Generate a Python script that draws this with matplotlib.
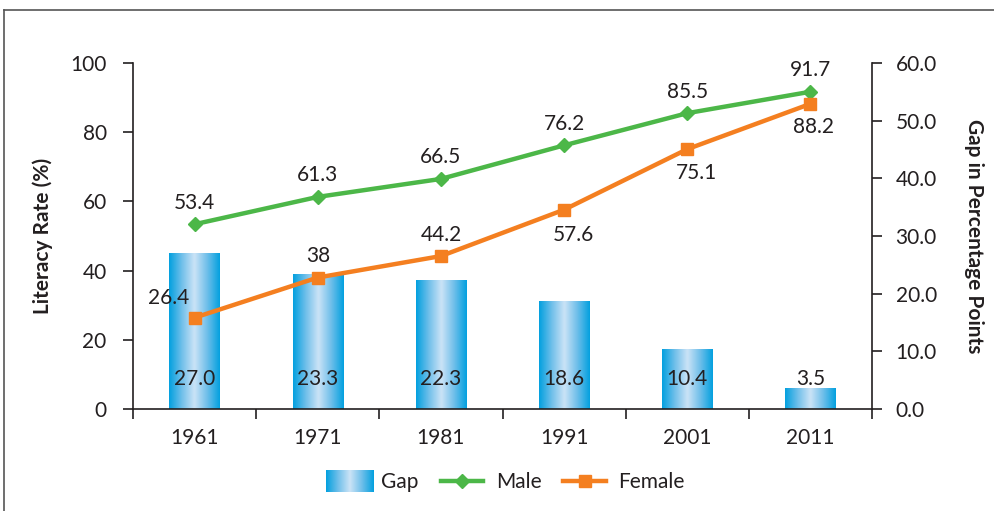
import numpy as np
import matplotlib
matplotlib.use("Agg")
import matplotlib.pyplot as plt
from matplotlib.lines import Line2D
from matplotlib.patches import Patch
from matplotlib.legend_handler import HandlerBase
from matplotlib.image import BboxImage
from matplotlib.transforms import Bbox, TransformedBbox
from matplotlib.colors import LinearSegmentedColormap

years = ["1961", "1971", "1981", "1991", "2001", "2011"]
male = [53.4, 61.3, 66.5, 76.2, 85.5, 91.7]
female = [26.4, 38, 44.2, 57.6, 75.1, 88.2]
gap = [27.0, 23.3, 22.3, 18.6, 10.4, 3.5]
male_labels = ["53.4", "61.3", "66.5", "76.2", "85.5", "91.7"]
female_labels = ["26.4", "38", "44.2", "57.6", "75.1", "88.2"]
gap_labels = ["27.0", "23.3", "22.3", "18.6", "10.4", "3.5"]
left_ticks = [0, 20, 40, 60, 80, 100]
right_ticks = [0, 10, 20, 30, 40, 50, 60]

plt.rcParams['font.family'] = ['Lato', 'DejaVu Sans']
FS = 15
GREEN = '#4cb748'
ORANGE = '#f47f20'
DARK = '#231f20'

cmap = LinearSegmentedColormap.from_list('g', ['#02a0df', '#6fbfea', '#cbe3f6', '#6fbfea', '#02a0df'])
grad = np.tile(np.linspace(0, 1, 256), (2, 1))

fig = plt.figure(figsize=(9.95, 5.11), dpi=100)
ax = fig.add_axes([0.1337, 0.1996, 0.8764 - 0.1337, 0.8767 - 0.1996])
ax2 = ax.twinx()

x = np.arange(len(years))

# bars on right axis (gradient fill)
bars = ax2.bar(x, gap, width=0.41, facecolor='none', edgecolor='none', zorder=1)
for b in bars:
    x0, y0 = b.get_x(), b.get_y()
    w, h = b.get_width(), b.get_height()
    ax2.imshow(grad, cmap=cmap, extent=[x0, x0 + w, y0, y0 + h],
               aspect='auto', interpolation='bicubic', zorder=1)
for xi, lab in zip(x, gap_labels):
    ax2.text(xi, 5.2, lab, ha='center', va='center', fontsize=FS, color=DARK, zorder=5)

ax2.set_ylim(0, 60)
ax2.set_xlim(-0.5, len(years) - 0.5)

ax.set_zorder(ax2.get_zorder() + 1)
ax.patch.set_visible(False)
ax.plot(x, male, color=GREEN, lw=3.2, marker='D', ms=7, zorder=3)
ax.plot(x, female, color=ORANGE, lw=3.2, marker='s', ms=8, zorder=3)

for xi, v, lab in zip(x, male, male_labels):
    ax.annotate(lab, (xi, v), xytext=(0, 15.5), textcoords='offset points',
                ha='center', va='center', fontsize=FS, color=DARK)
f_offsets = [(-19, 14.5), (0, 15.5), (0, 15.5), (6.5, -18), (7, -17.5), (2.5, -16.5)]
for xi, v, lab, off in zip(x, female, female_labels, f_offsets):
    ax.annotate(lab, (xi, v), xytext=off, textcoords='offset points',
                ha='center', va='center', fontsize=FS, color=DARK)

ax.set_ylim(0, 100)
ax.set_xlim(-0.5, len(years) - 0.5)
ax.set_yticks(left_ticks)
ax2.set_yticks(right_ticks)
ax2.set_yticklabels([f"{t:.1f}" for t in right_ticks])

ax.set_xticks(x)
ax.set_xticklabels(years)
ax.set_xticks(np.arange(len(years) + 1) - 0.5, minor=True)
ax.tick_params(axis='x', which='major', length=0, pad=14, labelsize=FS, labelcolor=DARK)
ax.tick_params(axis='x', which='minor', length=7, width=1.2, direction='out', color=DARK)
ax.tick_params(axis='y', length=7, width=1.2, direction='out', pad=12, labelsize=FS,
               color=DARK, labelcolor=DARK)
ax2.tick_params(axis='y', length=7, width=1.2, direction='out', pad=10, labelsize=FS,
                color=DARK, labelcolor=DARK)

for a in (ax, ax2):
    a.spines['top'].set_visible(False)
    for s in ('left', 'right', 'bottom'):
        a.spines[s].set_color(DARK)
        a.spines[s].set_linewidth(1.2)
ax.spines['right'].set_visible(False)
ax2.spines['left'].set_visible(False)
ax2.spines['bottom'].set_visible(False)

ax.set_ylabel("Literacy Rate (%)", fontsize=FS, fontweight='bold', color=DARK)
ax2.set_ylabel("Gap in Percentage Points", fontsize=FS, fontweight='bold', color=DARK,
               rotation=270)
ax.yaxis.set_label_coords(-0.108, 0.5)
ax2.yaxis.set_label_coords(1.151, 0.5)


class GradHandler(HandlerBase):
    def create_artists(self, legend, orig_handle, xdescent, ydescent, width, height,
                       fontsize, trans):
        bb = Bbox.from_bounds(-xdescent, -ydescent - 0.25 * height, width * 1.12, height * 1.5)
        img = BboxImage(TransformedBbox(bb, trans), cmap=cmap, interpolation='bicubic')
        img.set_data(grad)
        return [img]


gap_handle = Patch(label='Gap')
male_handle = Line2D([], [], color=GREEN, lw=3.2, marker='D', ms=7, label='Male')
female_handle = Line2D([], [], color=ORANGE, lw=3.2, marker='s', ms=8, label='Female')
fig.legend(handles=[gap_handle, male_handle, female_handle], loc='center',
           bbox_to_anchor=(0.508, 0.057), ncol=3, frameon=False, fontsize=FS,
           handler_map={Patch: GradHandler()}, handlelength=2.05, handletextpad=0.6,
           columnspacing=1.05, labelcolor=DARK)

# outer frame lines (left and top)
fig.add_artist(Line2D([0.0045, 0.0045], [0, 0.981], transform=fig.transFigure,
                      color='#555555', lw=1.2))
fig.add_artist(Line2D([0.0045, 1.0], [0.981, 0.981], transform=fig.transFigure,
                      color='#555555', lw=1.2))

fig.savefig("out.png", dpi=100)
